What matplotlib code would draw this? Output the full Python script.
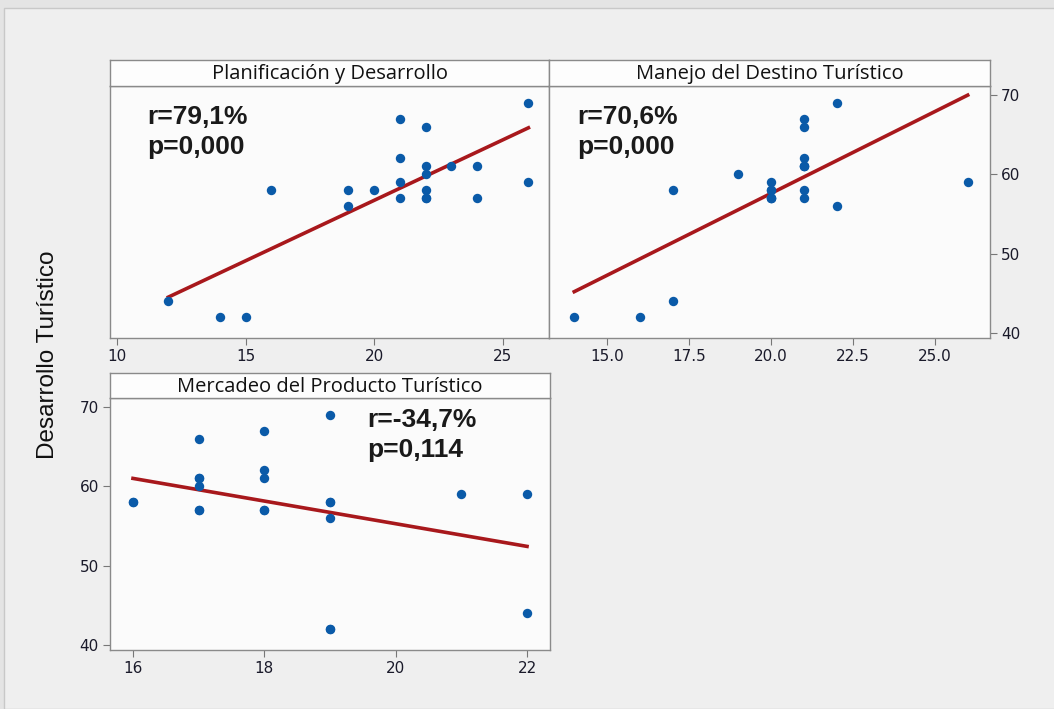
import matplotlib.pyplot as plt
from matplotlib.patches import Rectangle
import numpy as np

# Desarrollo Turistico (y) vs three dimensions, one row per respondent
desarrollo = [69, 67, 66, 62, 61, 61, 61, 60, 59, 59, 58, 58, 58, 58,
              57, 57, 57, 56, 44, 42, 42, 57]
planificacion = [26, 21, 22, 21, 22, 23, 24, 22, 21, 26, 16, 19, 20, 22,
                 21, 22, 24, 19, 12, 14, 15, 22]
manejo = [22, 21, 21, 21, 21, 21, 21, 19, 20, 26, 17, 20, 21, 20,
          20, 21, 20, 22, 17, 14, 16, 20]
mercadeo = [19, 18, 17, 18, 17, 18, 17, 17, 21, 22, 16, 19, 19, 16,
            17, 18, 17, 19, 22, 19, 19, 18]

titles = ["Planificación y Desarrollo", "Manejo del Destino Turístico",
          "Mercadeo del Producto Turístico"]
r_text = ["r=79,1%\np=0,000", "r=70,6%\np=0,000", "r=-34,7%\np=0,114"]

W, H = 1054, 709
fig = plt.figure(figsize=(W / 100, H / 100), dpi=100, facecolor="#e4e4e4")
fig.patches.append(Rectangle((4 / W, 0), 1, 1 - 8 / H, transform=fig.transFigure,
                             facecolor="#efefef", edgecolor="#c8c8c8", lw=1, zorder=-5))


def box(x0, y0, x1, y1):
    return [x0 / W, 1 - y1 / H, (x1 - x0) / W, (y1 - y0) / H]


panels = [
    dict(rect=(110, 86, 549, 338), strip=(110, 60, 549, 86), xlim=(9.73, 26.8),
         xticks=[10, 15, 20, 25], xfmt="{:.0f}", yside=None, txt=(0.085, 0.925)),
    dict(rect=(549, 86, 990, 338), strip=(549, 60, 990, 86), xlim=(13.23, 26.68),
         xticks=[15, 17.5, 20, 22.5, 25], xfmt="{:.1f}", yside="right", txt=(0.063, 0.925)),
    dict(rect=(110, 398, 550, 650), strip=(110, 373, 550, 398), xlim=(15.65, 22.35),
         xticks=[16, 18, 20, 22], xfmt="{:.0f}", yside="left", txt=(0.585, 0.96)),
]
xs = [planificacion, manejo, mercadeo]
y = np.array(desarrollo, dtype=float)

for p, x, title, txt in zip(panels, xs, titles, r_text):
    x = np.array(x, dtype=float)
    ax = fig.add_axes(box(*p["rect"]))
    ax.set_facecolor("#fbfbfb")
    ax.scatter(x, y, s=46, marker="o", color="#0a5aa8", zorder=3, linewidths=0)
    b, a = np.polyfit(x, y, 1)
    xx = np.array([x.min(), x.max()])
    ax.plot(xx, a + b * xx, color="#a8181c", lw=2.6, zorder=2)
    ax.set_xlim(*p["xlim"])
    ax.set_ylim(39.4, 71.1)
    ax.set_xticks(p["xticks"])
    ax.set_xticklabels([p["xfmt"].format(v) for v in p["xticks"]])
    ax.set_yticks([40, 50, 60, 70])
    ax.tick_params(axis="both", direction="out", length=5, color="#777777",
                   labelsize=11, labelcolor="#1a1a2a", pad=3)
    if p["yside"] == "right":
        ax.yaxis.tick_right()
    elif p["yside"] is None:
        ax.tick_params(axis="y", left=False, labelleft=False)
    for s in ax.spines.values():
        s.set_color("#8a8a8a")
        s.set_linewidth(1.0)
    ax.text(p["txt"][0], p["txt"][1], txt, transform=ax.transAxes, ha="left", va="top",
            fontsize=19, fontweight="bold", family="Liberation Sans", color="#1a1a1a",
            linespacing=1.3)

    sa = fig.add_axes(box(*p["strip"]))
    sa.set_facecolor("#fdfdfd")
    sa.set_xticks([])
    sa.set_yticks([])
    for s in sa.spines.values():
        s.set_color("#8a8a8a")
        s.set_linewidth(1.0)
    sa.text(0.5, 0.45, title, transform=sa.transAxes, ha="center", va="center",
            fontsize=14.5, color="#111111", family="Open Sans")

fig.text(48 / W, 1 - 355 / H, "Desarrollo Turístico", rotation=90, ha="center",
         va="center", fontsize=17.5, color="#111111", family="Liberation Sans")

fig.savefig("out.png", dpi=100, facecolor=fig.get_facecolor())
